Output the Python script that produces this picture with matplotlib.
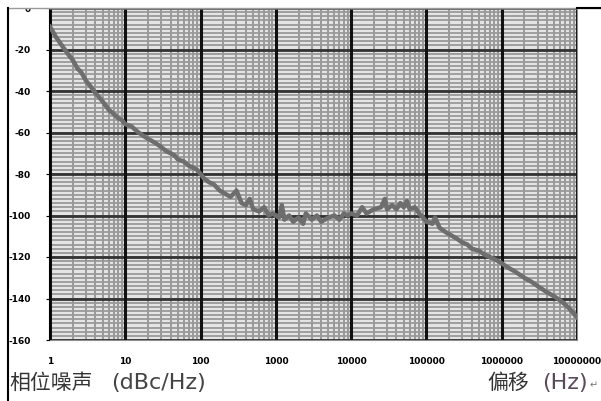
import matplotlib.pyplot as plt
import numpy as np

plt.rcParams['font.family'] = ['Noto Sans CJK SC', 'DejaVu Sans']

# Offset frequency (Hz) and phase noise (dBc/Hz)
freq = [1, 1.2, 1.5, 1.8, 2, 2.3, 2.6, 3, 3.5, 4, 4.5, 5, 5.5, 6, 7, 8, 9, 10,
        12, 15, 18, 20, 25, 30, 35, 40, 45, 50, 60, 70, 80, 90, 100,
        110, 130, 150, 180, 200, 250, 300, 350, 400, 450, 500, 600, 700, 800, 900, 1000,
        1100, 1200, 1300, 1500, 1700, 2000, 2300, 2500, 3000, 3500, 4000, 5000, 6000,
        7000, 8000, 9000, 10000,
        12000, 14000, 16000, 20000, 25000, 28000, 30000, 35000, 40000, 45000, 50000,
        55000, 60000, 70000, 80000, 90000, 100000,
        120000, 130000, 150000, 180000, 200000, 250000, 300000, 350000, 400000,
        500000, 600000, 700000, 800000, 900000, 1e6,
        1.2e6, 1.5e6, 2e6, 2.5e6, 3e6, 4e6, 5e6, 6e6, 7e6, 8e6, 9e6, 1e7]
noise = [-9, -14, -19, -23, -25, -29, -31, -35, -38, -41, -43, -45, -47, -49, -51, -53, -54, -56,
         -57, -60, -62, -63, -65, -67, -69, -70, -71, -73, -74, -76, -77, -78, -80,
         -82, -84, -85, -88, -89, -91, -88, -94, -95, -92, -97, -98, -96, -100, -99, -100,
         -101, -95, -102, -100, -103, -101, -104, -99, -102, -100, -103, -101, -100,
         -102, -99, -100, -99,
         -100, -96, -99, -97, -96, -92, -97, -95, -97, -94, -96,
         -93, -97, -96, -99, -101, -103,
         -104, -101, -106, -108, -109, -111, -113, -114, -116,
         -117, -119, -120, -121, -122, -123,
         -125, -127, -130, -132, -134, -137, -139, -141, -143, -145, -147, -149]

x_ticks = [1, 10, 100, 1000, 10000, 100000, 1000000, 10000000]
x_labels = ['1', '10', '100', '1000', '10000', '100000', '1000000', '10000000']
y_ticks = list(range(-160, 1, 20))

fig = plt.figure(figsize=(6.01, 4.01), dpi=100)
ax = fig.add_axes([50 / 601, 1 - 340 / 401, 527 / 601, 332 / 401])
ax.set_facecolor('#e4e4e4')

ax.set_xscale('log')
ax.set_xlim(1, 1e7)
ax.set_ylim(-160, 0)

# dense graph-paper grid
for yv in np.arange(-160, 1, 2):
    ax.axhline(yv, color='#999999', lw=1.3, zorder=1)
for d in range(7):
    for m in range(2, 10):
        ax.axvline(m * 10 ** d, color='#999999', lw=1.4, zorder=1)
for yv in y_ticks:
    ax.axhline(yv, color='#333333', lw=2.0, zorder=2)
for xv in x_ticks:
    ax.axvline(xv, color='#111111', lw=2.2, zorder=2)

ax.plot(freq, noise, color='#6e6e6e', lw=3.2, zorder=3)

ax.set_xticks(x_ticks)
ax.set_xticklabels(x_labels)
ax.set_yticks(y_ticks)
ax.set_yticklabels([str(v) for v in y_ticks])
ax.minorticks_off()
ax.tick_params(axis='both', labelsize=6.5, length=3, color='black')
ax.tick_params(axis='x', pad=12, length=0)
ax.tick_params(axis='y', pad=11)
for lab in ax.get_xticklabels() + ax.get_yticklabels():
    lab.set_fontweight('bold')
    lab.set_family('DejaVu Sans')

for s in ['top', 'right', 'bottom']:
    ax.spines[s].set_color('#8e8e8e')
ax.spines['left'].set_color('black')
ax.spines['left'].set_linewidth(1.5)

fig.text(9 / 601, 1 - 383 / 401, '相位噪声', fontsize=15, color='#333333', va='center')
fig.text(111 / 601, 1 - 383 / 401, '(dBc/Hz)', fontsize=16, color='#444444', va='center',
         family='DejaVu Sans')
fig.text(487 / 601, 1 - 383 / 401, '偏移', fontsize=15, color='#333333', va='center')
fig.text(542 / 601, 1 - 383 / 401, '(Hz)', fontsize=16, color='#5a4a5a', va='center',
         family='DejaVu Sans')
fig.text(590 / 601, 1 - 385 / 401, '↵', fontsize=7, color='#777777', va='center',
         family='DejaVu Sans')

# page frame around the picture; hides the top half of the "0" label
fig.add_artist(plt.Rectangle((0, 1 - 8 / 401), 1, 8 / 401, color='white',
                             transform=fig.transFigure, zorder=10))
fig.add_artist(plt.Line2D([8 / 601, 1], [1 - 8 / 401, 1 - 8 / 401], color='#999999',
                          lw=1.0, transform=fig.transFigure, zorder=11))
fig.add_artist(plt.Line2D([577 / 601, 1], [1 - 8 / 401, 1 - 8 / 401], color='black',
                          lw=1.5, transform=fig.transFigure, zorder=11))
fig.add_artist(plt.Line2D([8 / 601, 8 / 601], [0, 1 - 8 / 401], color='black',
                          lw=1.5, transform=fig.transFigure, zorder=11))

plt.savefig('out.png', dpi=100)
